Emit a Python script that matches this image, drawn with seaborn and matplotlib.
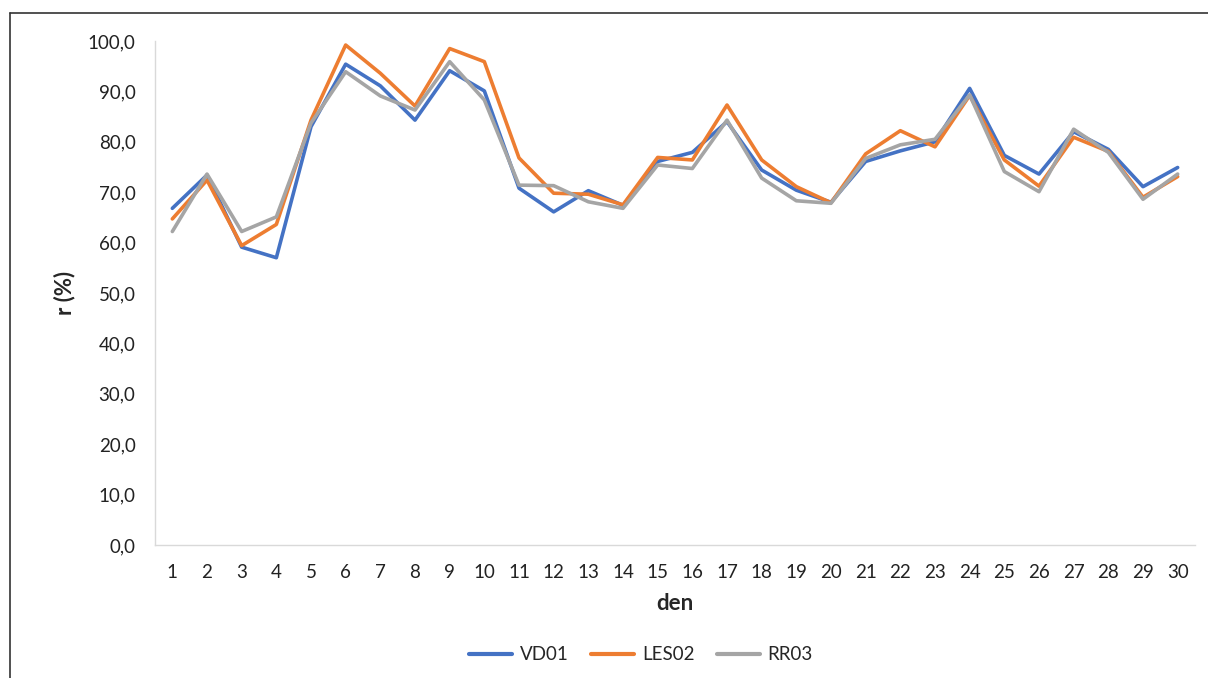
import numpy as np
import pandas as pd
import matplotlib
matplotlib.use("Agg")
import matplotlib.pyplot as plt
from matplotlib.lines import Line2D
import seaborn as sns

days = list(range(1, 31))
vd01 = [66.8, 73.4, 59.1, 57.0, 83.0, 95.4, 91.1, 84.3, 94.1, 90.1,
        70.8, 66.1, 70.3, 67.4, 76.1, 77.9, 84.0, 74.4, 70.4, 68.0,
        76.1, 78.2, 80.0, 90.6, 77.3, 73.6, 82.0, 78.5, 71.1, 74.9]
les02 = [64.7, 72.4, 59.4, 63.6, 84.3, 99.2, 93.6, 87.1, 98.5, 95.9,
         76.8, 69.8, 69.6, 67.5, 76.9, 76.4, 87.3, 76.4, 71.1, 67.9,
         77.6, 82.2, 79.0, 89.2, 76.4, 71.2, 80.9, 78.1, 69.0, 73.1]
rr03 = [62.2, 73.6, 62.2, 65.1, 83.7, 93.9, 89.1, 86.3, 95.9, 88.3,
        71.4, 71.3, 68.1, 66.8, 75.4, 74.7, 84.3, 72.8, 68.3, 67.8,
        76.7, 79.4, 80.5, 89.3, 74.1, 70.1, 82.5, 77.9, 68.6, 73.6]
series_names = ["VD01", "LES02", "RR03"]
y_ticks = np.arange(0, 101, 10)

df = pd.DataFrame({
    "den": days * 3,
    "r": vd01 + les02 + rr03,
    "stanice": [n for n in series_names for _ in days],
})

sns.set_theme(style="white")
plt.rcParams["font.family"] = ["Lato", "DejaVu Sans"]

fig = plt.figure(figsize=(12.08, 6.78), dpi=100)
ax = fig.add_axes([155 / 1208, 1 - 545 / 678, 1040 / 1208, 504 / 678])

palette = {"VD01": "#4472C4", "LES02": "#ED7D31", "RR03": "#A5A5A5"}
sns.lineplot(data=df, x="den", y="r", hue="stanice", hue_order=series_names,
             palette=palette, linewidth=2.6, ax=ax, legend=False)

ax.set_xlim(0.5, 30.5)
ax.set_ylim(0, 100)
ax.set_xticks(days)
ax.set_xticklabels([str(d) for d in days], fontsize=13.5, color="#222222")
ax.set_yticks(y_ticks)
ax.set_yticklabels([f"{v:.1f}".replace(".", ",") for v in y_ticks],
                   fontsize=13.5, color="#222222")
ax.tick_params(axis="x", length=0, pad=14)
ax.tick_params(axis="y", length=0, pad=14)

for side in ["top", "right"]:
    ax.spines[side].set_visible(False)
for side in ["left", "bottom"]:
    ax.spines[side].set_color("#D9D9D9")
    ax.spines[side].set_linewidth(1.0)

ax.set_xlabel("den", fontsize=16, fontweight="bold", labelpad=8)
ax.set_ylabel("r (%)", fontsize=16, fontweight="bold", labelpad=9)

handles = [Line2D([0], [0], color=palette[n], linewidth=3) for n in series_names]
fig.legend(handles, series_names, loc="center", bbox_to_anchor=(641 / 1208, 1 - 655 / 678),
           ncol=3, frameon=False, fontsize=13.5, handlelength=2.3, columnspacing=1.2,
           handletextpad=0.4)

# outer frame of the chart area
fig.add_artist(Line2D([10 / 1208, 10 / 1208], [0, 1 - 13 / 678], transform=fig.transFigure,
                      color="#333333", linewidth=1.2))
fig.add_artist(Line2D([10 / 1208, 1], [1 - 13 / 678, 1 - 13 / 678], transform=fig.transFigure,
                      color="#333333", linewidth=1.2))

fig.savefig("out.png", dpi=100, facecolor="white")
